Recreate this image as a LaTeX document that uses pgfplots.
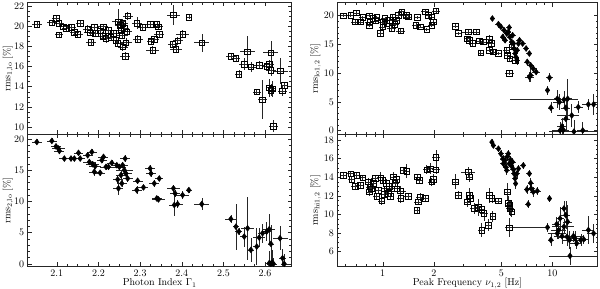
\documentclass[border=0pt]{standalone}
\usepackage{pgfplots}
\pgfplotsset{compat=1.18}
\usepackage{pgfplotstable}

\pgfplotstableread{
x y ex ey
2.052 20.20 0.012 0.3
2.088 20.34 0.012 0.3
2.098 20.77 0.010 0.3
2.105 20.27 0.012 0.3
2.105 19.15 0.010 0.3
2.116 19.94 0.012 0.3
2.122 19.80 0.010 0.3
2.134 19.87 0.012 0.3
2.142 19.38 0.010 0.3
2.150 19.20 0.012 0.3
2.156 20.27 0.010 0.3
2.174 19.67 0.012 0.4
2.180 19.34 0.015 0.3
2.182 18.40 0.012 0.3
2.190 19.87 0.012 0.3
2.192 19.28 0.015 0.3
2.204 19.54 0.012 0.3
2.212 19.94 0.012 0.3
2.210 19.00 0.015 0.4
2.218 18.78 0.012 0.5
2.224 19.60 0.012 0.3
2.230 18.87 0.015 0.3
2.236 19.28 0.012 0.3
2.242 18.61 0.012 0.3
2.248 20.44 0.015 1.2
2.246 18.28 0.012 0.3
2.252 20.10 0.012 0.4
2.254 19.60 0.012 0.3
2.256 19.10 0.015 0.4
2.258 17.95 0.012 0.4
2.264 17.02 0.012 0.4
2.266 18.35 0.015 0.5
2.268 19.44 0.012 0.3
2.270 21.00 0.012 0.4
2.258 20.30 0.012 0.4
2.262 19.80 0.012 0.4
2.292 20.27 0.012 0.6
2.294 18.68 0.012 0.4
2.306 19.87 0.012 0.3
2.324 20.20 0.010 0.3
2.326 18.48 0.010 0.3
2.330 17.62 0.015 0.4
2.334 18.68 0.012 0.3
2.340 20.20 0.012 0.3
2.344 19.94 0.012 0.3
2.346 19.20 0.012 0.3
2.380 21.10 0.015 1.0
2.378 18.20 0.012 0.3
2.386 17.69 0.015 0.4
2.390 18.55 0.012 0.4
2.402 19.18 0.015 0.4
2.417 20.87 0.008 0.2
2.448 18.35 0.018 0.9
2.518 17.02 0.012 0.3
2.530 16.80 0.010 0.3
2.537 15.24 0.008 0.4
2.550 16.23 0.012 0.6
2.558 17.46 0.018 1.6
2.566 15.96 0.015 0.5
2.580 13.48 0.010 0.3
2.586 16.13 0.012 0.4
2.594 12.72 0.010 1.9
2.604 16.03 0.012 0.3
2.610 16.23 0.012 0.4
2.614 17.36 0.018 1.2
2.610 13.90 0.008 0.9
2.614 13.64 0.010 0.6
2.614 15.63 0.012 0.6
2.617 13.80 0.010 0.8
2.620 10.07 0.010 0.6
2.636 15.57 0.018 1.3
2.642 13.58 0.010 0.5
2.646 14.14 0.008 0.3
}\tlsq

\pgfplotstableread{
x y ex ey
2.052 19.50 0.012 0.4
2.088 19.67 0.012 0.4
2.098 18.80 0.012 0.4
2.104 18.45 0.015 0.4
2.106 18.07 0.012 0.5
2.118 16.85 0.012 0.4
2.134 16.85 0.012 0.4
2.142 16.85 0.012 0.4
2.152 17.76 0.012 0.4
2.156 16.85 0.012 0.4
2.174 17.38 0.012 0.4
2.178 16.30 0.015 0.5
2.184 17.90 0.012 0.4
2.186 15.95 0.015 0.5
2.190 14.73 0.012 0.6
2.192 15.63 0.015 0.5
2.204 14.57 0.012 0.5
2.208 16.59 0.012 0.5
2.212 17.12 0.012 0.4
2.218 15.52 0.015 0.5
2.224 15.52 0.012 0.4
2.232 16.16 0.012 0.4
2.244 15.79 0.012 0.4
2.246 13.50 0.012 0.6
2.248 12.07 0.012 1.0
2.250 15.52 0.015 0.5
2.254 14.20 0.012 0.6
2.256 12.87 0.012 0.6
2.258 15.79 0.012 0.5
2.262 14.99 0.020 0.6
2.264 16.85 0.012 0.5
2.266 14.46 0.015 0.6
2.270 13.66 0.012 0.6
2.292 11.80 0.012 0.7
2.294 13.29 0.012 0.5
2.308 12.23 0.012 0.4
2.324 15.26 0.012 0.5
2.326 14.46 0.012 0.5
2.334 12.87 0.012 0.5
2.340 10.47 0.012 0.4
2.344 10.31 0.015 0.4
2.346 13.66 0.010 0.4
2.380 12.07 0.015 0.5
2.384 11.27 0.012 0.5
2.382 9.41 0.012 1.7
2.390 9.57 0.012 0.6
2.402 11.00 0.015 0.6
2.417 11.80 0.008 0.4
2.448 9.57 0.018 0.9
2.518 7.18 0.015 0.6
2.530 5.95 0.008 3.7
2.537 5.16 0.008 0.6
2.550 4.36 0.010 1.6
2.558 5.69 0.015 5.0
2.566 2.23 0.008 1.9
2.580 2.76 0.008 2.9
2.586 4.20 0.015 1.5
2.594 4.89 0.010 1.5
2.604 5.16 0.010 1.5
2.610 5.53 0.015 2.5
2.614 3.19 0.008 3.0
2.610 0.10 0.008 2.0
2.614 0.00 0.010 2.5
2.617 0.20 0.008 2.0
2.620 0.00 0.008 1.0
2.636 4.09 0.018 1.9
2.642 0.90 0.008 1.5
2.646 0.00 0.008 1.5
}\bldi

\pgfplotstableread{
x y ex ey
0.586 20.00 0.05 0.3
0.647 20.10 0.05 0.3
0.697 20.50 0.04 0.3
0.687 18.94 0.05 0.3
0.735 18.94 0.05 0.3
0.762 19.70 0.05 0.3
0.834 20.00 0.05 0.3
0.834 18.36 0.05 0.3
0.841 18.94 0.06 0.3
0.873 19.50 0.05 0.3
0.901 19.10 0.05 0.3
0.921 19.70 0.05 0.3
0.964 16.90 0.04 0.4
1.000 18.07 0.05 0.4
1.010 18.94 0.06 0.3
1.030 19.50 0.05 0.3
1.055 18.65 0.06 0.4
1.094 19.23 0.05 0.3
1.130 17.77 0.06 0.4
1.145 19.81 0.05 0.3
1.180 18.53 0.06 0.4
1.200 19.23 0.05 0.3
1.236 20.10 0.05 0.4
1.277 17.37 0.06 0.4
1.294 20.69 0.05 0.3
1.374 20.10 0.05 0.4
1.414 19.81 0.05 0.3
1.600 19.70 0.05 0.3
1.570 18.36 0.05 0.3
1.660 18.07 0.05 0.3
1.815 17.60 0.05 0.3
1.778 20.69 0.05 0.3
1.858 20.10 0.05 0.3
1.945 19.81 0.05 0.5
1.945 18.36 0.05 0.4
1.990 18.94 0.05 0.4
2.060 20.86 0.05 0.5
2.670 18.18 0.04 0.4
2.790 16.90 0.04 0.3
3.200 17.19 0.10 0.4
3.550 17.19 0.05 0.3
3.160 16.00 0.05 0.5
3.250 15.70 0.05 0.8
3.390 15.15 0.04 0.4
3.710 15.60 0.06 0.5
3.920 15.44 0.05 0.5
3.780 13.52 0.04 0.3
4.260 15.85 0.05 0.8
4.350 15.15 0.05 0.5
4.260 13.99 0.05 0.3
4.490 13.69 0.05 0.3
4.810 13.40 0.05 0.3
5.380 13.99 0.05 0.4
5.430 13.10 0.05 0.6
5.570 10.00 0.06 0.4
5.600 12.50 0.05 0.6
5.750 14.57 0.06 0.5
6.030 12.20 0.05 0.6
}\trsq

\pgfplotstableread{
x y exp exm ey
4.43 19.50 0.03 0.03 0.4
4.81 18.53 0.04 0.04 0.4
4.97 18.07 0.04 0.04 0.4
5.19 17.48 0.04 0.04 0.4
5.10 16.30 0.04 0.04 0.5
5.26 15.73 0.04 0.04 0.5
5.38 16.90 0.04 0.04 0.5
5.57 17.95 0.04 0.04 0.4
5.50 17.19 0.04 0.04 0.4
5.62 16.30 0.04 0.04 0.5
5.75 15.44 0.04 0.04 0.5
5.83 16.60 0.04 0.04 0.5
5.90 15.15 0.04 0.04 0.5
5.94 14.28 0.04 0.04 0.6
6.03 13.40 0.04 0.04 0.6
6.10 12.80 0.04 0.04 1.0
6.17 12.24 0.04 0.04 0.8
6.20 13.99 0.04 0.04 0.6
6.31 15.15 0.04 0.04 0.5
6.40 15.73 0.04 0.04 0.5
6.68 15.15 0.04 0.04 0.5
7.00 14.28 0.04 0.04 0.4
7.32 13.40 0.04 0.04 0.5
7.11 11.95 0.04 0.04 0.5
7.45 11.36 0.05 0.05 0.6
7.72 10.78 0.05 0.05 0.6
8.02 10.20 0.05 0.05 0.5
7.32 9.32 0.06 0.06 0.8
7.45 9.60 0.05 0.05 1.2
9.62 9.20 0.05 0.05 0.8
9.36 7.00 0.03 0.03 0.8
9.80 3.96 0.04 0.04 1.0
10.7 5.54 0.05 0.05 1.6
11.0 4.95 0.08 0.08 1.4
11.7 5.36 0.21 0.52 1.5
12.3 5.54 0.06 0.06 3.5
12.0 3.96 0.06 0.06 1.5
12.0 2.04 0.06 0.06 2.0
11.4 0.70 0.06 0.06 1.5
11.6 0.10 0.08 0.08 1.0
13.0 2.62 0.11 0.18 2.0
13.4 -0.20 0.50 0.29 2.0
14.2 4.08 0.06 0.06 1.0
15.1 0.00 0.08 0.08 1.5
16.3 4.55 0.08 0.08 1.0
17.5 4.55 0.08 0.08 1.8
11.1 0.00 0.10 0.10 1.5
}\trdi

\pgfplotstableread{
x y ex ey
0.586 14.20 0.05 0.3
0.647 14.39 0.05 0.3
0.656 13.75 0.05 0.4
0.687 13.04 0.05 0.3
0.703 14.20 0.05 0.3
0.735 13.14 0.05 0.3
0.762 13.96 0.05 0.3
0.823 13.50 0.05 0.4
0.834 12.43 0.05 0.4
0.841 12.96 0.05 0.5
0.860 12.78 0.05 0.4
0.881 13.32 0.05 0.4
0.901 13.86 0.05 0.4
0.921 11.96 0.05 0.4
0.942 12.60 0.05 0.4
0.973 13.96 0.05 0.6
0.986 11.46 0.05 0.4
1.000 13.68 0.05 0.4
1.018 12.18 0.05 0.4
1.046 13.32 0.05 0.5
1.055 12.78 0.06 0.5
1.080 12.25 0.05 0.4
1.094 13.04 0.05 0.4
1.110 11.96 0.05 0.4
1.130 12.78 0.05 0.5
1.155 14.03 0.05 0.5
1.180 13.32 0.05 0.4
1.200 13.75 0.05 0.4
1.210 12.78 0.05 0.4
1.265 12.53 0.08 0.5
1.277 11.71 0.05 0.5
1.323 14.75 0.05 0.4
1.384 14.67 0.05 0.8
1.414 11.96 0.05 0.3
1.600 14.03 0.05 0.3
1.590 10.46 0.04 0.3
1.620 11.36 0.05 0.3
1.645 13.68 0.05 0.4
1.660 11.89 0.05 0.4
1.778 11.71 0.05 0.3
1.815 14.82 0.05 0.5
1.900 14.93 0.04 0.6
1.945 13.50 0.05 0.4
1.990 13.75 0.05 0.6
2.060 16.17 0.05 0.8
2.060 14.82 0.05 0.5
2.670 13.50 0.04 0.8
2.790 12.07 0.04 0.4
3.200 14.57 0.10 0.5
3.250 14.03 0.05 0.5
3.250 12.07 0.05 0.8
3.160 11.36 0.05 0.6
3.270 11.71 0.05 0.6
3.460 10.64 0.05 0.6
3.660 10.75 0.05 0.9
3.830 10.54 0.05 0.6
3.950 10.10 0.05 0.8
3.830 8.32 0.05 0.8
4.200 8.86 0.04 0.6
4.260 12.07 0.05 0.8
4.400 11.71 0.05 0.5
4.450 9.82 0.04 0.6
4.810 11.46 0.04 0.3
5.430 12.43 0.05 1.0
5.500 11.18 0.05 0.8
5.620 10.64 0.05 0.8
5.750 10.29 0.05 0.6
5.570 8.57 0.05 1.0
5.600 11.00 0.05 0.5
}\brsq

\pgfplotstableread{
x y exp exm ey
4.40 17.78 0.03 0.03 0.3
4.49 17.42 0.03 0.03 0.3
4.81 17.07 0.04 0.04 0.3
4.97 16.53 0.04 0.04 0.4
5.10 15.99 0.04 0.04 0.4
5.14 15.46 0.04 0.04 0.4
5.26 15.82 0.04 0.04 0.4
5.32 15.10 0.04 0.04 0.5
5.43 16.24 0.04 0.04 0.4
5.50 16.53 0.04 0.04 0.4
5.38 14.75 0.04 0.04 0.5
5.57 15.46 0.04 0.04 0.4
5.66 15.89 0.04 0.04 0.4
5.75 15.17 0.04 0.04 0.4
5.83 15.64 0.04 0.04 0.4
5.90 14.82 0.04 0.04 0.5
5.94 14.39 0.04 0.04 0.5
6.03 13.86 0.04 0.04 0.5
6.07 13.32 0.04 0.04 0.6
6.17 14.39 0.04 0.04 0.5
6.31 14.93 0.04 0.04 0.4
6.74 15.28 0.04 0.04 0.4
7.32 14.39 0.04 0.04 0.4
7.45 13.39 0.04 0.04 0.5
7.07 12.68 0.04 0.04 0.5
7.50 12.78 0.05 0.05 0.5
7.72 12.43 0.05 0.05 0.5
8.15 12.53 0.05 0.05 0.4
7.20 11.10 0.04 0.04 0.4
9.62 11.71 0.04 0.04 0.4
9.36 8.61 0.03 0.40 0.5
9.80 7.25 0.04 0.04 0.6
10.6 8.96 0.06 0.06 0.8
10.9 8.32 0.10 0.10 1.0
11.1 9.57 0.06 0.06 1.2
11.7 10.64 0.05 0.05 0.8
12.0 9.93 0.06 0.06 1.5
12.3 9.21 0.06 0.06 1.8
10.7 7.96 0.12 0.12 0.6
11.4 7.67 0.10 0.10 0.8
11.7 8.68 0.15 0.15 0.8
12.2 7.60 0.10 0.10 1.0
12.6 7.25 0.08 0.08 1.0
12.7 5.54 0.50 0.25 1.0
13.3 7.67 0.15 0.15 0.6
13.6 7.43 0.10 0.10 0.8
13.9 6.89 0.08 0.08 0.6
14.7 7.25 0.08 0.08 0.6
15.3 7.32 0.06 0.06 0.5
16.3 8.32 0.08 0.08 1.5
17.5 7.96 0.08 0.08 1.0
}\brdi

\pgfplotsset{
  panel/.style={
    scale only axis, height=132pt,
    axis line style={line width=0.5pt, black!85},
    every tick/.style={line width=0.4pt, black!85},
    major tick length=4pt, minor tick length=2.2pt,
    every axis y label/.style={at={(rel axis cs:0,0.5)}, xshift=#1, rotate=90, anchor=south},
    every axis x label/.style={at={(rel axis cs:0.5,0)}, yshift=-19.3pt, anchor=base},
  },
  sqr/.style={only marks, mark=square, mark size=2.8pt,
    mark options={line width=0.6pt, black, fill=none},
    error bars/x dir=both, error bars/y dir=both, error bars/y explicit,
    error bars/error mark=none,
    error bars/error bar style={line width=0.5pt, black!85}},
  dia/.style={only marks, mark=diamond*, mark size=3pt,
    mark options={black, fill=black},
    error bars/x dir=both, error bars/y dir=both, error bars/y explicit,
    error bars/error mark=none,
    error bars/error bar style={line width=0.5pt, black!85}},
}

\begin{document}
\begin{tikzpicture}
\useasboundingbox (0,0) rectangle (600pt,289pt);

% top left
\begin{axis}[panel=-11pt, at={(27.7pt,154.5pt)}, anchor=south west,
  xmin=2.030, xmax=2.664, width=264pt,
  xtick={2.1,2.2,2.3,2.4,2.5,2.6}, minor x tick num=3,
  ymin=9.27, ymax=22.33, ytick={10,12,14,16,18,20,22}, minor y tick num=3,
  xticklabels={},
  ylabel={rms$_{1,\mathrm{lo}}$ [\%]}]
\addplot[sqr, error bars/x explicit] table[x=x, y=y, x error=ex, y error=ey]{\tlsq};
\end{axis}

% bottom left
\begin{axis}[panel=-11pt, at={(27.7pt,22.5pt)}, anchor=south west,
  xmin=2.030, xmax=2.664, width=264pt,
  xtick={2.1,2.2,2.3,2.4,2.5,2.6}, minor x tick num=3,
  xticklabels={2.1,2.2,2.3,2.4,2.5,2.6},
  ymin=-0.43, ymax=20.7, ytick={0,5,10,15,20}, minor y tick num=4,
  xlabel={Photon Index $\Gamma_1$},
  ylabel={rms$_{2,\mathrm{lo}}$ [\%]}]
\addplot[dia, error bars/x explicit] table[x=x, y=y, x error=ex, y error=ey]{\bldi};
\end{axis}

% top right
\begin{axis}[panel=-13pt, xmode=log, at={(337.3pt,154.5pt)}, anchor=south west,
  xmin=0.54, xmax=18.5, width=260.4pt,
  xtick={1,2,5,10}, xticklabels={},
  minor xtick={0.6,0.7,0.8,0.9,3,4,6,7,8,9},
  ymin=-0.7, ymax=22.3, ytick={0,5,10,15,20}, minor y tick num=4,
  ylabel={rms$_{\mathrm{lo}1,2}$ [\%]}]
\addplot[sqr, error bars/x explicit relative] table[x=x, y=y, x error=ex, y error=ey]{\trsq};
\addplot[dia, error bars/x explicit relative] table[x=x, y=y, x error plus=exp, x error minus=exm, y error=ey]{\trdi};
\end{axis}

% bottom right
\begin{axis}[panel=-13pt, xmode=log, at={(337.3pt,22.5pt)}, anchor=south west,
  xmin=0.54, xmax=18.5, width=260.4pt,
  xtick={1,2,5,10}, xticklabels={1,2,5,10},
  minor xtick={0.6,0.7,0.8,0.9,3,4,6,7,8,9},
  ymin=4.4, ymax=18.6, ytick={6,8,10,12,14,16,18}, minor y tick num=3,
  xlabel={Peak Frequency $\nu_{1,2}$ [Hz]},
  ylabel={rms$_{\mathrm{hi}1,2}$ [\%]}]
\addplot[sqr, error bars/x explicit relative] table[x=x, y=y, x error=ex, y error=ey]{\brsq};
\addplot[dia, error bars/x explicit relative] table[x=x, y=y, x error plus=exp, x error minus=exm, y error=ey]{\brdi};
\end{axis}
\end{tikzpicture}
\end{document}
